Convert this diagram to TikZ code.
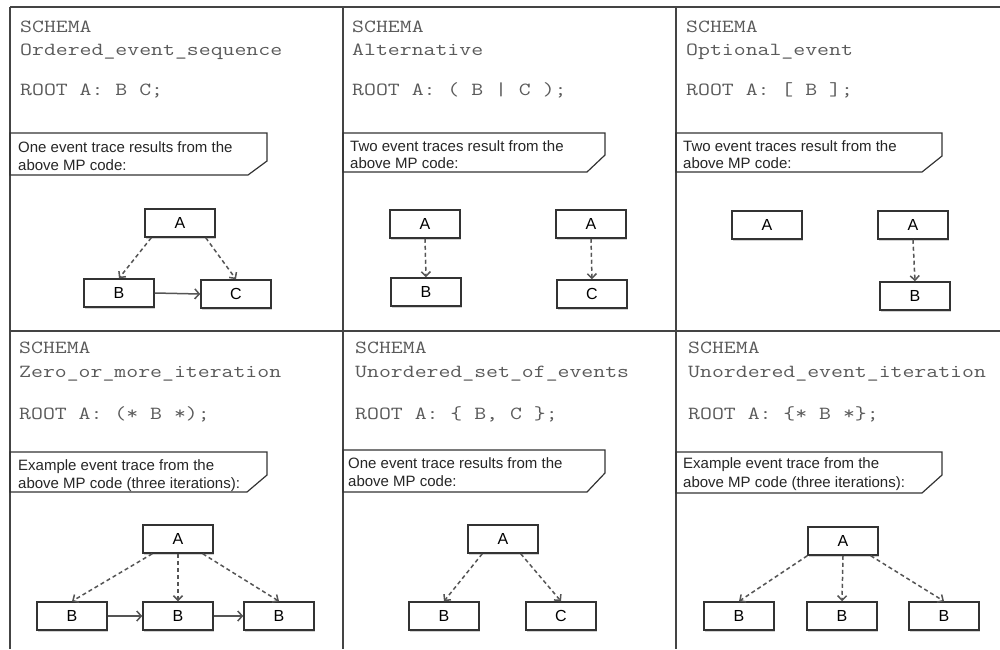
\documentclass[tikz,border=0pt]{standalone}
\usepackage{fontspec}
\setmainfont{Liberation Sans}
\newfontfamily\codefont{Latin Modern Mono}[FakeStretch=1.25]
\usetikzlibrary{arrows.meta,shadows}

\definecolor{framec}{HTML}{444444}
\definecolor{codec}{HTML}{5A5A5A}
\definecolor{boxc}{HTML}{333333}
\definecolor{arrc}{HTML}{555555}

\tikzset{
 frameline/.style={draw=framec,line width=1.8pt},
 codetext/.style={anchor=base west,inner sep=0pt,text=codec,font=\codefont\fontsize{18.5}{22}\selectfont},
 notetext/.style={anchor=base west,inner sep=0pt,text=black!85,font=\fontsize{15}{17}\selectfont},
 callout/.style={draw=boxc,line width=1.2pt},
 event/.style={draw=boxc,line width=1.5pt,fill=white,minimum width=70pt,minimum height=28pt,inner sep=0pt,font=\fontsize{16}{18}\selectfont,drop shadow={shadow xshift=1.2pt,shadow yshift=-1.5pt,opacity=0.35}},
 optarr/.style={draw=arrc,line width=1.5pt,dash pattern=on 4pt off 3pt,-{Straight Barb[length=4.5pt,width=9pt]}},
 seqarr/.style={draw=arrc,line width=1.5pt,-{Straight Barb[length=4.5pt,width=10pt]}},
}

\begin{document}
\begin{tikzpicture}[x=1pt,y=-1pt]
\useasboundingbox (0,0) rectangle (1000,649);
\fill[white] (0,0) rectangle (1000,649);

% frame
\draw[frameline] (10,7) -- (1000,7);
\draw[frameline] (10,331) -- (1000,331);
\draw[frameline] (10,7) -- (10,649);
\draw[frameline] (343,7) -- (343,649);
\draw[frameline] (676,7) -- (676,649);

% ---------- cell 1 ----------
\node[codetext] (c1a) at (20,32) {SCHEMA};
\node[codetext] (c1b) at (20,55) {Ordered\_event\_sequence};
\node[codetext] (c1c) at (20,95) {ROOT A: B C;};
\draw[callout] (10,133) -- (267,133) -- (267,161) -- (248,175) -- (10,175) -- cycle;
\node[notetext] (n1a) at (18,152) {One event trace results from the};
\node[notetext] (n1b) at (18,170) {above MP code:};
\node[event] (a1) at (180,223) {A};
\node[event] (b1) at (119,293) {B};
\node[event] (cc1) at (236,294) {C};
\draw[optarr] ([xshift=7pt]a1.south west) -- (b1.north);
\draw[optarr] ([xshift=-10pt]a1.south east) -- (cc1.north);
\draw[seqarr] (b1.east) -- (cc1.west);

% ---------- cell 2 ----------
\node[codetext] (c2a) at (352,32) {SCHEMA};
\node[codetext] (c2b) at (352,55) {Alternative};
\node[codetext] (c2c) at (352,95) {ROOT A: ( B | C );};
\draw[callout] (343,133) -- (605,133) -- (605,155) -- (587,172) -- (343,172) -- cycle;
\node[notetext] (n2a) at (350,151) {Two event traces result from the};
\node[notetext] (n2b) at (350,168) {above MP code:};
\node[event] (a2l) at (425,224) {A};
\node[event] (b2l) at (426,292) {B};
\node[event] (a2r) at (591,224) {A};
\node[event] (c2r) at (592,294) {C};
\draw[optarr] (a2l.south) -- (b2l.north);
\draw[optarr] (a2r.south) -- (c2r.north);

% ---------- cell 3 ----------
\node[codetext] (c3a) at (686,32) {SCHEMA};
\node[codetext] (c3b) at (686,55) {Optional\_event};
\node[codetext] (c3c) at (686,95) {ROOT A: [ B ];};
\draw[callout] (676,133) -- (942,133) -- (942,156) -- (922,172) -- (676,172) -- cycle;
\node[notetext] (n3a) at (683,151) {Two event traces result from the};
\node[notetext] (n3b) at (683,168) {above MP code:};
\node[event] (a3l) at (767,225) {A};
\node[event] (a3r) at (913,225) {A};
\node[event] (b3r) at (915,296) {B};
\draw[optarr] (a3r.south) -- (b3r.north);

% ---------- cell 4 ----------
\node[codetext] (c4a) at (19,353) {SCHEMA};
\node[codetext] (c4b) at (19,377) {Zero\_or\_more\_iteration};
\node[codetext] (c4c) at (19,419) {ROOT A: (* B *);};
\draw[callout] (10,452) -- (267,452) -- (267,475) -- (247,492) -- (10,492) -- cycle;
\node[notetext] (n4a) at (18,470) {Example event trace from the};
\node[notetext] (n4b) at (18,488) {above MP code (three iterations):};
\node[event] (a4) at (178,539) {A};
\node[event] (b4a) at (72,616) {B};
\node[event] (b4b) at (178,616) {B};
\node[event] (b4c) at (279,616) {B};
\draw[optarr] ([xshift=10pt]a4.south west) -- (b4a.north);
\draw[optarr] (a4.south) -- (b4b.north);
\draw[optarr] ([xshift=-11pt]a4.south east) -- (b4c.north);
\draw[seqarr] (b4a.east) -- (b4b.west);
\draw[seqarr] (b4b.east) -- (b4c.west);

% ---------- cell 5 ----------
\node[codetext] (c5a) at (355,353) {SCHEMA};
\node[codetext] (c5b) at (355,377) {Unordered\_set\_of\_events};
\node[codetext] (c5c) at (355,419) {ROOT A: \{ B, C \};};
\draw[callout] (343,450) -- (605,450) -- (605,473) -- (587,492) -- (343,492) -- cycle;
\node[notetext] (n5a) at (348,468) {One event trace results from the};
\node[notetext] (n5b) at (348,486) {above MP code:};
\node[event] (a5) at (503,539) {A};
\node[event] (b5) at (444,616) {B};
\node[event] (cc5) at (561,616) {C};
\draw[optarr] ([xshift=15pt]a5.south west) -- (b5.north);
\draw[optarr] ([xshift=-18pt]a5.south east) -- (cc5.north);

% ---------- cell 6 ----------
\node[codetext] (c6a) at (688,353) {SCHEMA};
\node[codetext] (c6b) at (688,377) {Unordered\_event\_iteration};
\node[codetext] (c6c) at (688,419) {ROOT A: \{* B *\};};
\draw[callout] (676,452) -- (942,452) -- (942,475) -- (922,493) -- (676,493) -- cycle;
\node[notetext] (n6a) at (683,468) {Example event trace from the};
\node[notetext] (n6b) at (683,487) {above MP code (three iterations):};
\node[event] (a6) at (843,541) {A};
\node[event] (b6a) at (739,616) {B};
\node[event] (b6b) at (842,616) {B};
\node[event] (b6c) at (944,616) {B};
\draw[optarr] (a6.south west) -- (b6a.north);
\draw[optarr] (a6.south) -- (b6b.north);
\draw[optarr] ([xshift=-8pt]a6.south east) -- (b6c.north);
\end{tikzpicture}
\end{document}
